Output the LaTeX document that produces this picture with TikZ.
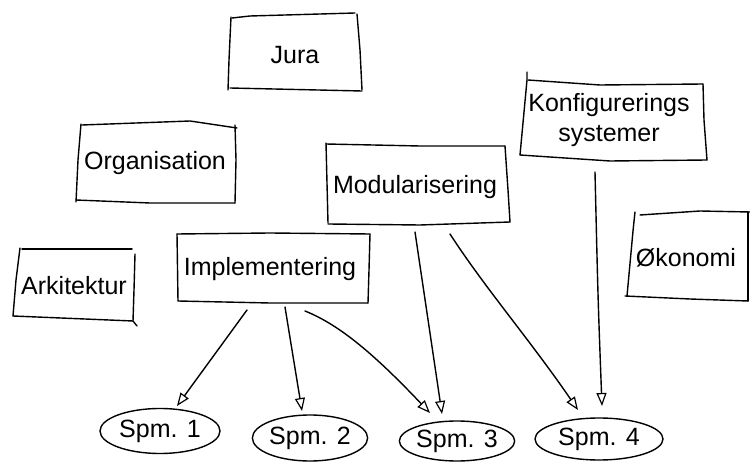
\documentclass[tikz,border=0pt]{standalone}
\usepackage{fontspec}
\setmainfont{Liberation Sans}
\usetikzlibrary{arrows.meta,shapes.geometric}
\tikzset{
  sketch/.style={line width=1.4pt, line cap=round, line join=round},
  lbl/.style={font=\fontsize{25}{30}\selectfont, inner sep=0pt, align=center},
  spm/.style={lbl, sketch, draw, ellipse, inner sep=0pt},
  arr/.style={sketch, -{Triangle[open, length=13pt, width=10pt, line width=1.2pt]}}
}
\begin{document}
\begin{tikzpicture}[x=1pt, y=-1pt]
\useasboundingbox (0,0) rectangle (750,462);

% labels of the topic boxes
\node[lbl] (jura) at (295,55) {Jura};
\node[lbl] (org)  at (155,163) {Organisation};
\node[lbl] (mod)  at (415,187) {Modularisering};
\node[lbl] (konf) at (609,120) {Konfigurerings\\systemer};
\node[lbl] (oko)  at (686,258) {Økonomi};
\node[lbl] (ark)  at (74,286) {Arkitektur};
\node[lbl] (impl) at (270,269) {Implementering};

% hand-drawn frames around the topics
\begin{scope}[sketch]
  % Jura
  \draw (232,18) -- (250,16) -- (355,13);
  \draw (231,17) -- (229,60) -- (228,90);
  \draw (230,88) -- (362,91);
  \draw (357,14) -- (360,50) -- (362,90);
  % Organisation
  \draw (82,125) -- (190,121) -- (237,128);
  \draw (81,124) -- (78,160) -- (76,202);
  \draw (76,200) -- (150,203) -- (235,203);
  \draw (235,125) -- (236,160) -- (235,203);
  % Modularisering
  \draw (326,143) -- (328,223);
  \draw (326,144) -- (420,146) -- (505,146);
  \draw (505,146) -- (508,190) -- (510,222);
  \draw (328,224) -- (420,225) -- (510,222);
  % Konfigurerings systemer
  \draw (527,72) -- (527,80) -- (520,155);
  \draw (528,80) -- (600,85) -- (703,84);
  \draw (520,155) -- (610,161) -- (707,160);
  \draw (703,84) -- (704,120) -- (707,160);
  % Økonomi
  \draw (640,215) -- (700,211) -- (750,212);
  \draw (635,212) -- (633,231) -- (627,296);
  \draw (625,296) -- (690,299) -- (748,301);
  \draw (748,212) -- (748,301);
  % Arkitektur
  \draw (22,249) -- (132,249);
  \draw (20,248) -- (16,280) -- (13,316);
  \draw (13,316) -- (133,321) -- (137,326);
  \draw (135,254) -- (134,290) -- (133,321);
  % Implementering
  \draw (177,234) -- (270,233) -- (370,234);
  \draw (177,234) -- (178,301);
  \draw (178,301) -- (270,303) -- (368,303);
  \draw (370,234) -- (369,270) -- (368,303);
\end{scope}

% question bubbles
\node[spm, minimum width=120, minimum height=45] (s1) at (160,431) {Spm. 1};
\node[spm, minimum width=114, minimum height=46] (s2) at (310,438) {Spm. 2};
\node[spm, minimum width=110, minimum height=40] (s3) at (457,441) {Spm. 3};
\node[spm, minimum width=128, minimum height=42] (s4) at (599,439) {Spm. 4};

% arrow end points
\coordinate (i1) at (247,310);
\coordinate (i2) at (285,307);
\coordinate (i3) at (305,311);
\coordinate (m3) at (415,232);
\coordinate (m4) at (450,234);
\coordinate (k4) at (595,172);
\coordinate (t1) at (177,406);
\coordinate (t2) at (302,411);
\coordinate (t3a) at (430,413);
\coordinate (t3b) at (442,414);
\coordinate (t4a) at (578,410);
\coordinate (t4b) at (602,406);

\draw[arr] (i1) -- (t1);
\draw[arr] (i2) .. controls (292,350) .. (t2);
\draw[arr] (i3) .. controls (340,325) and (375,355) .. (t3a);
\draw[arr] (m3) -- (t3b);
\draw[arr] (m4) .. controls (485,288) and (530,340) .. (t4a);
\draw[arr] (k4) .. controls (598,300) .. (t4b);
\end{tikzpicture}
\end{document}
